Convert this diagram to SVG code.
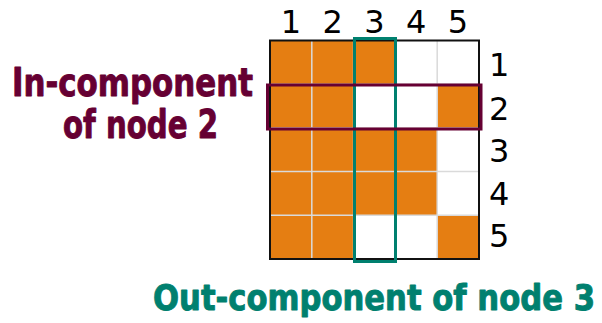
<svg xmlns="http://www.w3.org/2000/svg" width="602" height="323" viewBox="0 0 602 323">
<style>
.on{fill:#E57E12}
.grid{stroke:#DADADA;stroke-width:1.5;fill:none}
.num{font-family:"DejaVu Sans","Liberation Sans",sans-serif;font-size:32px;fill:#000}
.lbl{font-family:"DejaVu Sans Condensed","DejaVu Sans",sans-serif;font-weight:bold;stroke-width:0.9;stroke-linejoin:round}
</style>
<rect width="602" height="323" fill="#fff"/>
<g id="cells">
<rect class="on" x="270" y="40.5" width="125.4" height="43.7"/>
<rect class="on" x="270" y="84.2" width="83.6" height="43.7"/>
<rect class="on" x="437.2" y="84.2" width="41.8" height="43.7"/>
<rect class="on" x="270" y="127.9" width="167.2" height="87.4"/>
<rect class="on" x="270" y="215.3" width="83.6" height="43.7"/>
<rect class="on" x="437.2" y="215.3" width="41.8" height="43.7"/>
</g>
<g id="gridlines" class="grid">
<path d="M311.8 40.5V259M353.6 40.5V259M395.4 40.5V259M437.2 40.5V259M270 84.2H479M270 127.9H479M270 171.6H479M270 215.3H479"/>
</g>
<rect id="border" x="270" y="40.5" width="209" height="218.5" fill="none" stroke="#111" stroke-width="2"/>
<g id="colLabels" class="num" text-anchor="middle">
<text x="291" y="33">1</text>
<text x="332.7" y="33">2</text>
<text x="374.5" y="33">3</text>
<text x="416.3" y="33">4</text>
<text x="458" y="33">5</text>
</g>
<g id="rowLabels" class="num">
<text x="489" y="76">1</text>
<text x="489" y="120">2</text>
<text x="489" y="162">3</text>
<text x="489" y="205">4</text>
<text x="489" y="247">5</text>
</g>
<g id="outComponent">
<rect x="354.5" y="38.5" width="41" height="223" fill="none" stroke="#00806F" stroke-width="3"/>
<text class="lbl" x="153" y="310" font-size="36" fill="#00806F" stroke="#00806F" textLength="442" lengthAdjust="spacingAndGlyphs">Out-component of node 3</text>
</g>
<g id="inComponent">
<rect x="267.5" y="85" width="213.5" height="44" fill="none" stroke="#660033" stroke-width="3"/>
<text class="lbl" x="12" y="96" font-size="39" fill="#660033" stroke="#660033" textLength="241" lengthAdjust="spacingAndGlyphs">In-component</text>
<text class="lbl" x="63" y="138" font-size="39" fill="#660033" stroke="#660033" textLength="155" lengthAdjust="spacingAndGlyphs">of node 2</text>
</g>
</svg>
